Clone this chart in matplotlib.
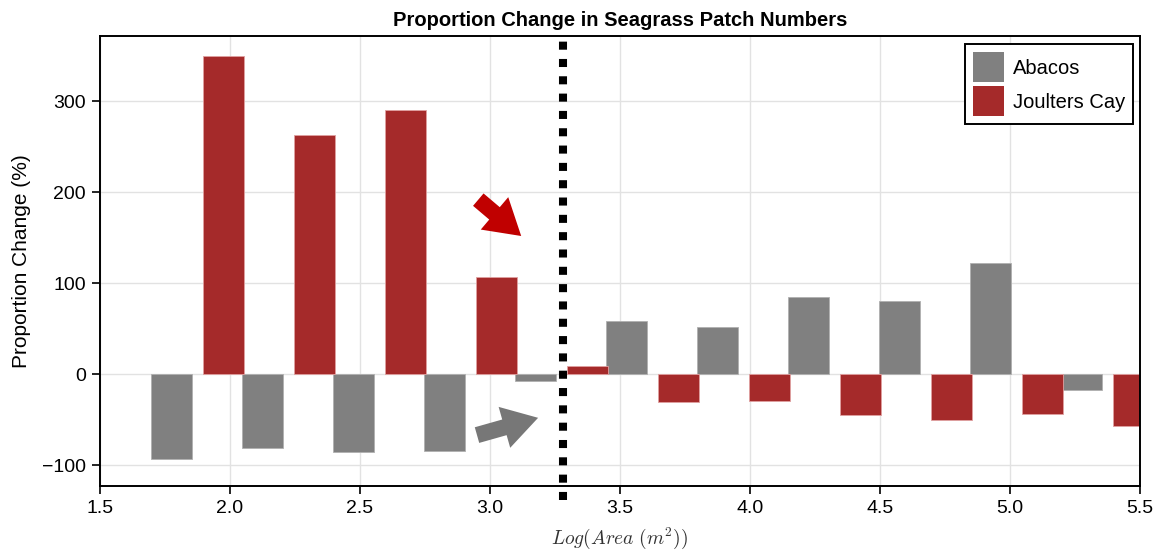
import numpy as np
import matplotlib
matplotlib.use("Agg")
import matplotlib.pyplot as plt
from matplotlib.patches import Patch

plt.rcParams['font.family'] = ['Liberation Sans', 'DejaVu Sans']
plt.rcParams['mathtext.fontset'] = 'cm'

# bin centres of log(area) classes
bin_centres = [1.875, 2.225, 2.575, 2.925, 3.275, 3.625, 3.975, 4.325, 4.675, 5.025, 5.375]
abacos = [-93, -81, -86, -85, -8, 59, 52, 85, 81, 122, -17]
joulters = [350, 263, 291, 107, 9, -31, -29, -45, -50, -44, -57]
series_names = ["Abacos", "Joulters Cay"]
split_at = 3.28

grey = "#808080"
red = "#a52a2a"
bar_w = 0.16
off = 0.1

fig = plt.figure(figsize=(11.62, 5.54), dpi=100)
ax = fig.add_axes([100/1162, 68/554, 1040/1162, 450/554])

x = np.array(bin_centres)
ax.bar(x - off, abacos, width=bar_w, color=grey, edgecolor="#b0b0b0", linewidth=0.6, zorder=2)
ax.bar(x + off, joulters, width=bar_w, color=red, edgecolor="#e0a0a0", linewidth=0.6, zorder=2)

ax.set_xlim(1.5, 5.5)
ax.set_ylim(-123, 372)
ax.set_xticks([1.5, 2.0, 2.5, 3.0, 3.5, 4.0, 4.5, 5.0, 5.5])
ax.set_yticks([-100, 0, 100, 200, 300])
ax.grid(True, color="#e2e2e2", linewidth=1, zorder=0)
ax.set_axisbelow(True)
ax.tick_params(axis='both', labelsize=14, direction='out', length=6, width=1.2, colors='black', pad=4)
ax.tick_params(top=False, right=False)
for s in ax.spines.values():
    s.set_linewidth(1.4)

# dotted divider
ax.plot([split_at, split_at], [-138, 366], color='black', linewidth=5.8,
        linestyle=(0, (1, 1.15)), dash_capstyle='butt', clip_on=False, zorder=5)

# arrows pointing at the divider
arrow_style = "simple,head_width=1.7,head_length=1.4,tail_width=0.65"
ax.annotate("", xy=(3.12, 152), xytext=(2.955, 192),
            arrowprops=dict(arrowstyle=arrow_style, color="#c00000", lw=0,
                            mutation_scale=18, shrinkA=0, shrinkB=0), zorder=4)
ax.annotate("", xy=(3.185, -48), xytext=(2.95, -67),
            arrowprops=dict(arrowstyle=arrow_style, color="#777777", lw=0,
                            mutation_scale=18, shrinkA=0, shrinkB=0), zorder=4)

ax.set_title("Proportion Change in Seagrass Patch Numbers", fontsize=14.5, fontweight='bold', pad=7)
ax.set_ylabel("Proportion Change (%)", fontsize=15, labelpad=8)
ax.set_xlabel(r"$Log(Area\ (m^2))$", fontsize=14, labelpad=6, color="#333333")

handles = [Patch(facecolor=grey, edgecolor='none'), Patch(facecolor=red, edgecolor='none')]
leg = ax.legend(handles, series_names, loc='upper right', fontsize=14.5, fancybox=False,
                framealpha=1, edgecolor='black', handlelength=1.5, handleheight=1.92,
                borderpad=0.4, labelspacing=0.2, handletextpad=0.45, borderaxespad=0,
                bbox_to_anchor=(1033/1040, 1 - 8/450))
leg.get_frame().set_linewidth(1.4)

fig.savefig("out.png", dpi=100)
